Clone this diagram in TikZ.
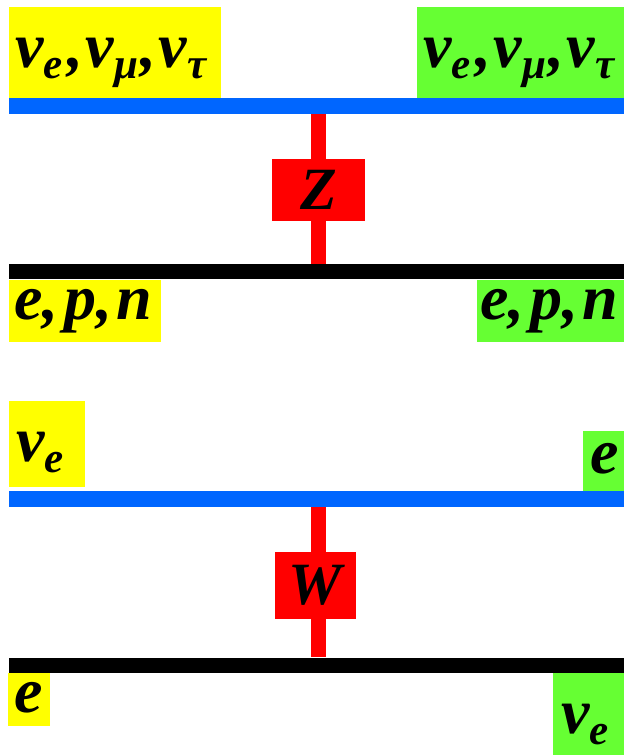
\documentclass[tikz,border=0pt]{standalone}
\usepackage{fontspec}
\setmainfont{Liberation Serif}
\newcommand\lsub[1]{\raisebox{-11pt}{\fontsize{43}{43}\selectfont #1}}
\definecolor{yel}{HTML}{FFFF00}
\definecolor{grn}{HTML}{66FF33}
\definecolor{blu}{HTML}{0066FF}
\definecolor{rd}{HTML}{FF0000}
\tikzset{
  lbl/.style={inner sep=0pt,anchor=base west,font=\fontsize{64}{64}\selectfont\bfseries\itshape},
  pbox/.style={inner sep=0pt,anchor=north west,draw=none},
  rbox/.style={inner sep=0pt,fill=rd,font=\fontsize{60}{60}\selectfont\bfseries\itshape},
  blueline/.style={draw=blu,line width=16pt},
  blackline/.style={draw=black,line width=15pt},
  redline/.style={draw=rd,line width=15pt}
}
\begin{document}
\begin{tikzpicture}[x=1pt,y=-1pt]
\useasboundingbox (0,0) rectangle (624,755);
% ---- top diagram boxes
\node[pbox,fill=yel,minimum width=212pt,minimum height=91pt] (yb1) at (9,7) {};
\node[pbox,fill=grn,minimum width=207pt,minimum height=91pt] (gb1) at (417,7) {};
\node[pbox,fill=yel,minimum width=152pt,minimum height=62pt] (yb2) at (9,280) {};
\node[pbox,fill=grn,minimum width=147pt,minimum height=62pt] (gb2) at (477,280) {};
% ---- bottom diagram boxes
\node[pbox,fill=yel,minimum width=76pt,minimum height=86pt] (yb3) at (9,401) {};
\node[pbox,fill=grn,minimum width=41pt,minimum height=61pt] (gb3) at (583,431) {};
\node[pbox,fill=yel,minimum width=42pt,minimum height=53pt] (yb4) at (8,673) {};
\node[pbox,fill=grn,minimum width=71pt,minimum height=82pt] (gb4) at (553,673) {};
% ---- lines top
\coordinate (bl1) at (9,106);
\coordinate (br1) at (624,106);
\coordinate (kl1) at (9,271.5);
\coordinate (kr1) at (624,271.5);
\coordinate (v1t) at (318.5,114);
\coordinate (v1b) at (318.5,264);
\draw[redline] (v1t) -- (v1b);
\draw[blueline] (bl1) -- (br1);
\draw[blackline] (kl1) -- (kr1);
\node[rbox,minimum width=93pt,minimum height=62pt] (z) at (318.5,190) {Z};
% ---- lines bottom
\coordinate (bl2) at (9,499);
\coordinate (br2) at (624,499);
\coordinate (kl2) at (9,665);
\coordinate (kr2) at (624,665);
\coordinate (v2t) at (318.5,507);
\coordinate (v2b) at (318.5,657);
\draw[redline] (v2t) -- (v2b);
\draw[blueline] (bl2) -- (br2);
\draw[blackline] (kl2) -- (kr2);
\node[rbox,minimum width=81pt,minimum height=67pt] (w) at (315.5,585.5) {W};
% ---- labels
\node[lbl] (t1) at (15,67) {ν\lsub{e}\hspace{5pt},\hspace{2pt}ν\lsub{μ}\hspace{2pt},\hspace{3pt}ν\lsub{τ}};
\node[lbl] (t2) at (423,67) {ν\lsub{e}\hspace{5pt},\hspace{2pt}ν\lsub{μ}\hspace{2pt},\hspace{3pt}ν\lsub{τ}};
\node[lbl] (t3) at (14,319) {e,\hspace{6pt}p,\hspace{4pt}n};
\node[lbl] (t4) at (480,319) {e,\hspace{6pt}p,\hspace{4pt}n};
\node[lbl] (t5) at (16,461) {ν\lsub{e}};
\node[lbl] (t6) at (590,473) {e};
\node[lbl] (t7) at (14,712) {e};
\node[lbl] (t8) at (561,733) {ν\lsub{e}};
\end{tikzpicture}
\end{document}
